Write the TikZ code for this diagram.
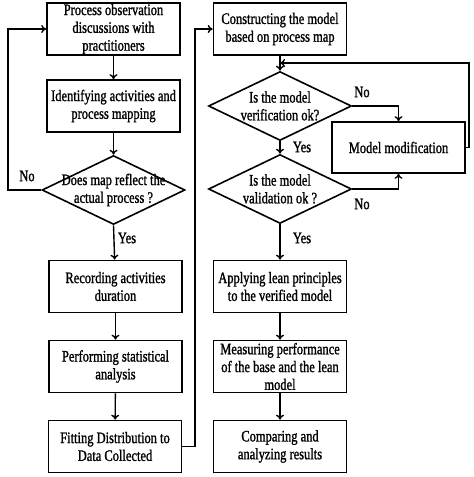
\documentclass[tikz,border=0pt]{standalone}
\usepackage{fontspec}
\setmainfont{Liberation Serif}[FakeStretch=0.78,FakeBold=1.2]
\usetikzlibrary{shapes.geometric,arrows.meta}
\begin{document}
\begin{tikzpicture}[x=1pt,y=-1pt,
  every node/.style={font=\fontsize{16}{17.8}\selectfont},
  box/.style={draw,line width=1.7pt,minimum width=133pt,minimum height=52pt,inner sep=0pt,align=center},
  dia/.style={draw,diamond,line width=1.6pt,minimum width=143pt,minimum height=69pt,inner sep=0pt},
  txt/.style={align=center,inner sep=0pt},
  lbl/.style={inner sep=0pt},
  conn/.style={line width=1.4pt,-{To[length=5pt,width=8pt]}},
  line/.style={line width=1.4pt}]
\useasboundingbox (0,0) rectangle (474,477);
% left column
\node[box] (b1) at (113.5,29) {Process observation\\discussions with\\practitioners};
\node[box] (b2) at (113.5,106) {Identifying activities and\\process mapping};
\node[dia] (d1) at (113.5,190) {};
\node[txt] (d1t) at (113.5,190) {Does map reflect the\\actual process ?};
\node[box] (b3) at (115.5,286.5) {Recording activities\\duration};
\node[box] (b4) at (115.5,366.5) {Performing statistical\\analysis};
\node[box] (b5) at (115,446.5) {Fitting Distribution to\\Data Collected};
% right column
\node[box] (b6) at (280,29) {Constructing the model\\based on process map};
\node[dia] (d2) at (280,106) {};
\node[txt] (d2t) at (280,106) {Is the model\\verification ok?};
\node[dia] (d3) at (280,189) {};
\node[txt] (d3t) at (280,189) {Is the model\\validation ok ?};
\node[box,minimum width=133pt,minimum height=51pt] (mm) at (398.5,147.5) {Model modification};
\node[box] (b7) at (280,286.5) {Applying lean principles\\to the verified model};
\node[box] (b8) at (280,366.5) {Measuring performance\\of the base and the lean\\model};
\node[box] (b9) at (280,446.5) {Comparing and\\analyzing results};
% labels
\node[lbl] (no1) at (27,176) {No};
\node[lbl] (yes1) at (127,238) {Yes};
\node[lbl] (no2) at (362,92) {No};
\node[lbl] (yes2) at (302,147) {Yes};
\node[lbl] (no3) at (362,204) {No};
\node[lbl] (yes3) at (302,238) {Yes};
% coordinates
\coordinate (l1) at (8,190);
\coordinate (l2) at (195,446.5);
\coordinate (r1) at (469,147.5);
\coordinate (j1) at (280,63);
% connectors
\draw[conn] (b1) -- (b2);
\draw[conn] (b2) -- (d1.north);
\draw[conn] (d1.west) -- (l1) |- (b1.west);
\draw[conn] (d1.south) -- (b3);
\draw[conn] (b3) -- (b4);
\draw[conn] (b4) -- (b5);
\draw[conn] (b5.east) -- (l2) |- (b6.west);
\draw[conn] (b6) -- (d2.north);
\draw[conn] (d2.east) -| (mm.north);
\draw[conn] (d2.south) -- (d3.north);
\draw[conn] (d3.east) -| (mm.south);
\draw[conn] (mm.east) -- (r1) |- (j1);
\draw[conn] (d3.south) -- (b7);
\draw[conn] (b7) -- (b8);
\draw[conn] (b8) -- (b9);
\end{tikzpicture}
\end{document}
